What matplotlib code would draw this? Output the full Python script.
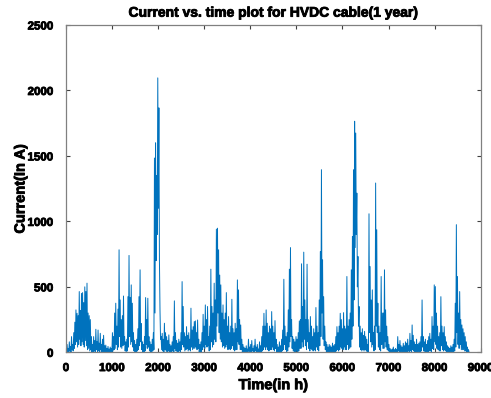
import numpy as np
import matplotlib
matplotlib.use("Agg")
import matplotlib.pyplot as plt
import matplotlib.patheffects as pe

# Daily maximum current (A) for each day of the year, days 0..364
daily_peak = [
    450, 60, 30, 80, 45, 120, 60, 150, 230, 324, 298, 280, 464, 320, 450, 456, 380, 500, 465, 528,
    300, 280, 250, 120, 60, 120, 90, 176, 80, 170, 70, 145, 60, 100, 130, 50, 55, 30, 45, 25,
    40, 30, 150, 120, 300, 375, 200, 330, 783, 400, 250, 280, 430, 120, 80, 100, 425, 740, 420, 515,
    375, 150, 90, 60, 100, 180, 425, 630, 220, 80, 60, 120, 418, 250, 413, 120, 80, 60, 100, 150,
    1484, 1600, 1350, 2096, 1867, 324, 120, 145, 100, 222, 150, 120, 90, 133, 60, 50, 80, 120, 393, 150,
    90, 70, 100, 80, 150, 540, 350, 150, 120, 196, 130, 150, 100, 337, 170, 196, 235, 240, 150, 247,
    100, 60, 80, 150, 290, 200, 362, 250, 350, 120, 200, 635, 350, 300, 528, 400, 941, 948, 783, 590,
    515, 300, 362, 250, 300, 456, 200, 273, 150, 200, 405, 180, 150, 222, 180, 553, 477, 250, 209, 100,
    60, 40, 30, 50, 25, 100, 40, 60, 90, 30, 50, 100, 40, 60, 25, 80, 50, 120, 200, 298,
    200, 324, 222, 150, 200, 180, 311, 200, 150, 242, 100, 60, 40, 80, 50, 100, 170, 558, 200, 120,
    150, 324, 635, 800, 250, 120, 100, 80, 120, 100, 150, 240, 250, 676, 350, 765, 400, 250, 673, 250,
    150, 273, 200, 120, 180, 150, 342, 200, 150, 400, 770, 1395, 706, 425, 200, 80, 60, 40, 60, 50,
    40, 70, 50, 60, 120, 196, 150, 200, 298, 250, 180, 303, 200, 180, 579, 200, 250, 300, 630, 885,
    1395, 1765, 1675, 1216, 732, 350, 200, 150, 180, 130, 160, 120, 100, 60, 1058, 655, 400, 477, 150, 200,
    1293, 936, 375, 200, 150, 579, 300, 300, 630, 324, 200, 120, 60, 30, 20, 25, 40, 20, 30, 20,
    120, 60, 90, 50, 40, 69, 50, 80, 70, 100, 50, 145, 90, 209, 130, 80, 60, 100, 60, 70,
    80, 120, 400, 120, 80, 100, 60, 90, 120, 145, 100, 273, 200, 515, 502, 300, 200, 120, 150, 425,
    200, 150, 196, 120, 80, 50, 40, 30, 50, 40, 60, 100, 375, 975, 579, 300, 464, 250, 209, 180,
    150, 120, 80, 40, 20,
]

# Daily minimum current (A) for the same days
daily_low = [
    5, 0, 0, 10, 0, 20, 10, 30, 60, 80, 40, 60, 100, 50, 80, 60, 40, 90, 50, 20,
    30, 10, 20, 0, 0, 10, 0, 20, 0, 10, 0, 20, 0, 5, 0, 0, 0, 0, 0, 0,
    0, 0, 10, 20, 30, 60, 20, 40, 120, 40, 30, 50, 60, 10, 0, 10, 40, 120, 60, 80,
    40, 10, 0, 0, 10, 20, 50, 80, 20, 0, 0, 10, 60, 30, 40, 10, 0, 0, 10, 20,
    300, 700, 900, 1100, 700, 100, 20, 10, 0, 20, 10, 0, 10, 0, 0, 0, 10, 0, 30, 10,
    0, 0, 10, 0, 20, 60, 40, 10, 20, 30, 10, 20, 10, 40, 20, 30, 30, 40, 20, 30,
    0, 0, 0, 20, 40, 30, 60, 40, 50, 10, 20, 80, 40, 60, 100, 80, 200, 300, 150, 100,
    80, 40, 50, 30, 40, 60, 20, 30, 20, 30, 50, 20, 10, 20, 20, 80, 60, 20, 20, 0,
    0, 0, 0, 0, 0, 10, 0, 0, 10, 0, 0, 10, 0, 0, 0, 0, 0, 10, 20, 40,
    20, 40, 20, 10, 20, 20, 40, 20, 10, 30, 0, 0, 0, 0, 0, 10, 20, 60, 20, 0,
    10, 40, 80, 120, 30, 10, 0, 0, 10, 0, 10, 30, 30, 80, 40, 100, 50, 20, 80, 30,
    10, 30, 20, 10, 20, 10, 40, 20, 10, 50, 120, 300, 100, 50, 20, 0, 0, 0, 0, 0,
    0, 0, 0, 0, 10, 20, 10, 20, 40, 30, 20, 40, 20, 20, 60, 20, 30, 40, 100, 200,
    400, 800, 900, 500, 200, 40, 20, 10, 20, 10, 20, 10, 0, 0, 150, 80, 40, 60, 10, 20,
    200, 150, 40, 20, 10, 60, 30, 30, 80, 40, 20, 10, 0, 0, 0, 0, 0, 0, 0, 0,
    10, 0, 0, 0, 0, 0, 0, 0, 0, 10, 0, 10, 0, 20, 10, 0, 0, 0, 0, 0,
    0, 10, 40, 10, 0, 0, 0, 0, 10, 10, 0, 30, 20, 80, 60, 30, 20, 10, 10, 50,
    20, 10, 20, 10, 0, 0, 0, 0, 0, 0, 0, 10, 40, 150, 60, 30, 60, 20, 20, 20,
    10, 10, 0, 0, 0,
]

x_ticks = [0, 1000, 2000, 3000, 4000, 5000, 6000, 7000, 8000, 9000]
y_ticks = [0, 500, 1000, 1500, 2000, 2500]

title_text = "Current vs. time plot for HVDC cable(1 year)"
x_label = "Time(in h)"
y_label = "Current(In A)"

# Half-day samples: the daily peak followed by the daily low
current = np.column_stack([daily_peak, daily_low]).ravel()
hours = np.arange(current.size) * 12.0

plt.rcParams["font.family"] = ["Liberation Sans", "DejaVu Sans"]
plt.rcParams["font.weight"] = "bold"

# slightly heavier strokes for all text
heavy = [pe.withStroke(linewidth=0.6, foreground="black")]

fig = plt.figure(figsize=(4.91, 3.98), dpi=100)
ax = fig.add_axes([0.1344, 0.1148, 0.8446, 0.8224])

ax.plot(hours, current, color="#0072BD", linewidth=0.7)

ax.set_xlim(0, 9000)
ax.set_ylim(0, 2500)
ax.set_xticks(x_ticks)
ax.set_yticks(y_ticks)
ax.tick_params(direction="in", length=3, width=0.8, colors="#404040",
               labelcolor="black", labelsize=8.3, top=True, right=True)
ax.tick_params(axis="x", pad=7)
ax.tick_params(axis="y", pad=9)
for lab in ax.get_xticklabels() + ax.get_yticklabels():
    lab.set_fontweight("bold")
    lab.set_path_effects(heavy)
for sp in ax.spines.values():
    sp.set_color("#808080")
    sp.set_linewidth(0.9)

t = ax.set_title(title_text, fontsize=10, fontweight="bold", pad=6)
t.set_path_effects(heavy)
xl = ax.set_xlabel(x_label, fontsize=10.5, fontweight="bold", labelpad=3)
xl.set_path_effects(heavy)
yl = ax.set_ylabel(y_label, fontsize=10.5, fontweight="bold", labelpad=0)
yl.set_path_effects(heavy)

fig.savefig("out.png", dpi=100)
